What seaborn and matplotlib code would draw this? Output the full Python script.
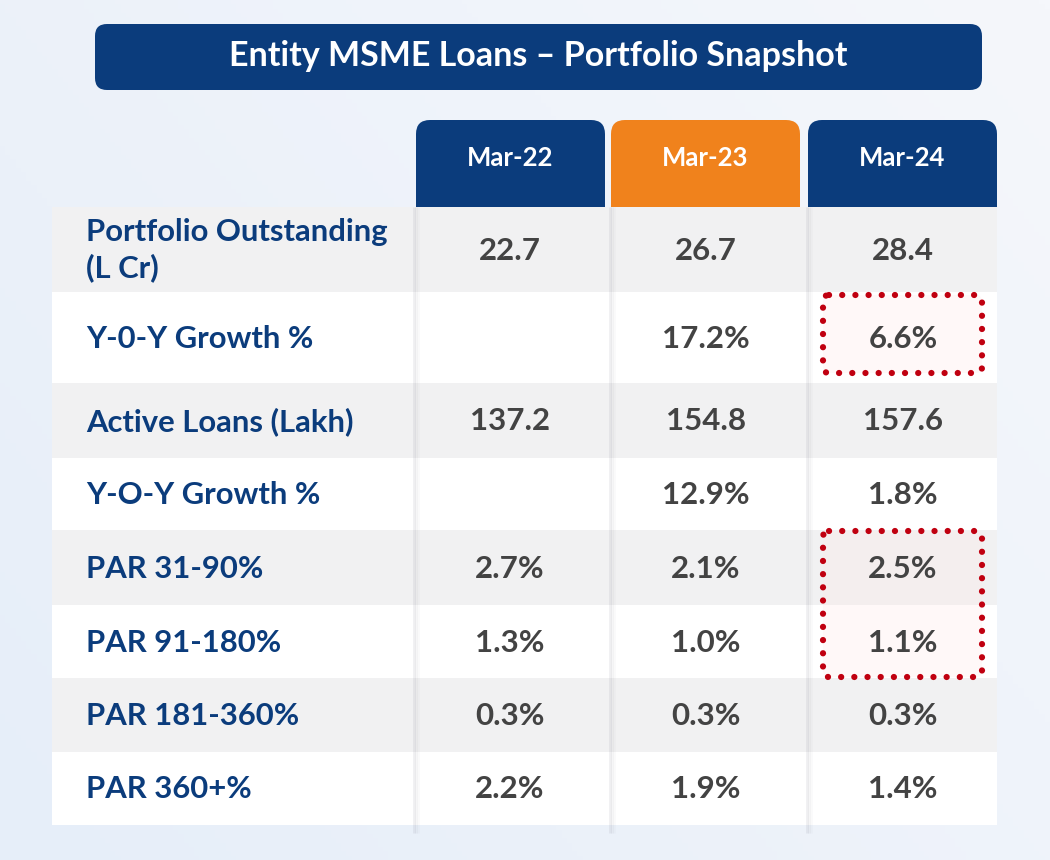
import numpy as np
import matplotlib
matplotlib.use("Agg")
import matplotlib.pyplot as plt
from matplotlib.patches import FancyBboxPatch, Rectangle
from matplotlib.colors import LinearSegmentedColormap
import seaborn as sns

sns.set_theme(style="white")
plt.rcParams['font.family'] = ['Lato', 'DejaVu Sans']

# ---- data ----
title = "Entity MSME Loans \u2013 Portfolio Snapshot"
periods = ["Mar-22", "Mar-23", "Mar-24"]
row_labels = ["Portfolio Outstanding\n(L Cr)", "Y-0-Y Growth %", "Active Loans (Lakh)",
              "Y-O-Y Growth %", "PAR 31-90%", "PAR 91-180%", "PAR 181-360%", "PAR 360+%"]
mar22 = ["22.7", "", "137.2", "", "2.7%", "1.3%", "0.3%", "2.2%"]
mar23 = ["26.7", "17.2%", "154.8", "12.9%", "2.1%", "1.0%", "0.3%", "1.9%"]
mar24 = ["28.4", "6.6%", "157.6", "1.8%", "2.5%", "1.1%", "0.3%", "1.4%"]
highlight_rows = [[1], [4, 5]]  # rows boxed in Mar-24 column

# ---- layout (pixels) ----
W, H = 1050, 860
row_edges = [207, 292, 383, 458, 530, 605, 678, 752, 825]
col_edges = [52, 414, 610, 807, 997]
tab_x = [(416, 605), (611, 800), (808, 997)]
navy = "#0B3C7C"
orange = "#F0821C"
gray_row = "#F1F1F2"
red = "#C00010"

fig = plt.figure(figsize=(W / 100, H / 100), dpi=100)
ax = fig.add_axes([0, 0, 1, 1])
ax.set_xlim(0, W)
ax.set_ylim(H, 0)
ax.axis("off")

# background gradient
gx = np.linspace(0, 1, 200)
gy = np.linspace(0, 1, 200)
GX, GY = np.meshgrid(gx, gy)
grad = 0.6 * GX + 0.4 * (1 - GY)
bg_cmap = LinearSegmentedColormap.from_list("bg", ["#E6EEF9", "#F5F7FB"])
ax.imshow(grad, cmap=bg_cmap, extent=[0, W, H, 0], aspect="auto", zorder=0)

# title box
ax.add_patch(FancyBboxPatch((95, 24), 887, 66, boxstyle="round,pad=0,rounding_size=12",
                            fc=navy, ec="none", zorder=1))
ax.text(538, 56, title, color="white", fontsize=24.5, fontweight="bold",
        ha="center", va="center", zorder=3)

# header tabs
for i, (p, (x0, x1)) in enumerate(zip(periods, tab_x)):
    c = orange if i == 1 else navy
    ax.add_patch(FancyBboxPatch((x0, 120), x1 - x0, 110, boxstyle="round,pad=0,rounding_size=14",
                                fc=c, ec="none", zorder=1))
    ax.text((x0 + x1) / 2, 158, p, color="white", fontsize=18.5, fontweight="bold",
            ha="center", va="center", zorder=3)

# rows
values = [mar22, mar23, mar24]
col_centers = [510, 706, 903]
for r, lab in enumerate(row_labels):
    y0, y1 = row_edges[r], row_edges[r + 1]
    fc = gray_row if r % 2 == 0 else "white"
    ax.add_patch(Rectangle((col_edges[0], y0), col_edges[-1] - col_edges[0], y1 - y0,
                           fc=fc, ec="none", zorder=2))
    ym = (y0 + y1) / 2
    ax.text(86, ym + 1, lab, color=navy, fontsize=22.3, fontweight="bold",
            ha="left", va="center", linespacing=1.3, zorder=4)
    for c, col in enumerate(values):
        ax.text(col_centers[c], ym + 1, col[r], color="#434343", fontsize=22.5,
                fontweight="bold", ha="center", va="center", zorder=4)

# column shadows
for x in col_edges[1:4]:
    for k, a in enumerate([0.10, 0.06, 0.03]):
        ax.plot([x + k * 2, x + k * 2], [row_edges[0], row_edges[-1] + 8], color="#6A6A7A",
                alpha=a, lw=2, zorder=3, solid_capstyle="butt")

# dotted highlight boxes
for rows in highlight_rows:
    y0 = row_edges[rows[0]] + (3 if rows[0] == 1 else 1)
    y1 = row_edges[rows[-1] + 1] - (10 if rows[0] == 1 else 1)
    box = FancyBboxPatch((823, y0), 159, y1 - y0, boxstyle="round,pad=0,rounding_size=6",
                         fc=(1, 0.9, 0.9, 0.25), ec=red, lw=4.5, linestyle=(0, (0.01, 2.1)),
                         capstyle="round", zorder=3.5)
    ax.add_patch(box)

fig.savefig("out.png", dpi=100)
